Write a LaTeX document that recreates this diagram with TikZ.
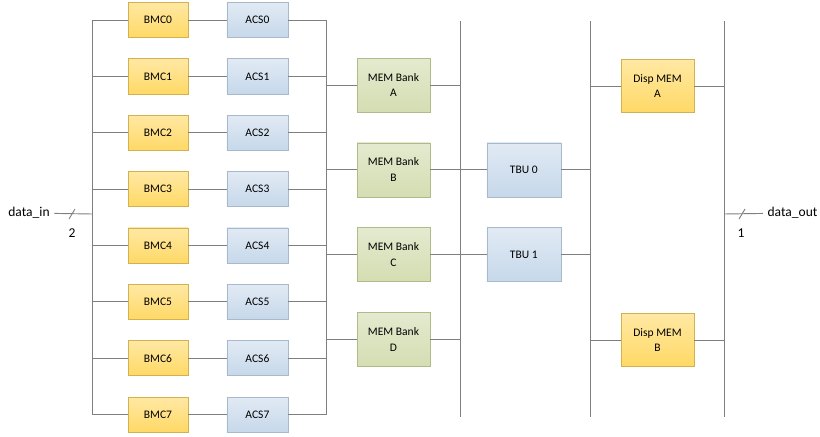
\documentclass[tikz,border=0pt]{standalone}
\usepackage{fontspec}
\setmainfont{Carlito}
\usepackage{tikz}
\usetikzlibrary{positioning,calc}

\definecolor{ylwtop}{HTML}{FFE8A3}
\definecolor{ylwbot}{HTML}{FFD966}
\definecolor{ylwline}{HTML}{D2B24E}
\definecolor{blutop}{HTML}{E1EAF4}
\definecolor{blubot}{HTML}{C6D8EA}
\definecolor{bluline}{HTML}{A9B9CC}
\definecolor{grntop}{HTML}{E4EACF}
\definecolor{grnbot}{HTML}{D4DDB2}
\definecolor{grnline}{HTML}{AFBB89}
\definecolor{wirecol}{HTML}{7F7F7F}

\begin{document}
\begin{tikzpicture}[
  x=0.0265cm, y=-0.0265cm,
  font=\fontsize{8.7}{12}\selectfont,
  box/.style={draw, align=center, inner sep=1pt, outer sep=0pt, line width=0.5pt},
  yellow/.style={box, draw=ylwline, top color=ylwtop, bottom color=ylwbot},
  blue/.style={box, draw=bluline, top color=blutop, bottom color=blubot},
  bmc/.style={yellow, minimum width=1.59cm, minimum height=0.93cm},
  acs/.style={blue, minimum width=1.62cm, minimum height=0.93cm},
  mem/.style={box, draw=grnline, top color=grntop, bottom color=grnbot, minimum width=1.93cm, minimum height=1.43cm},
  tbu/.style={blue, minimum width=1.96cm, minimum height=1.43cm},
  disp/.style={yellow, minimum width=1.93cm, minimum height=1.40cm},
  port/.style={font=\fontsize{10.2}{12}\selectfont},
  wire/.style={draw=wirecol, line width=0.7pt},
  node distance=0.564cm and 1.03cm
]
\useasboundingbox (0,0) rectangle (820,436);

% branch metric / add-compare-select units
\node[bmc] (bmc0) at (158,20) {BMC0};
\node[acs, right=of bmc0] (acs0) {ACS0};
\foreach \i [count=\j from 0] in {1,...,7} {
  \node[bmc, below=of bmc\j] (bmc\i) {BMC\i};
  \node[acs, right=of bmc\i] (acs\i) {ACS\i};
}

% memory banks, traceback, display memory
\node[mem] (mema) at (393.5,85) {MEM Bank\\A};
\node[mem, below=0.82cm of mema] (memb) {MEM Bank\\B};
\node[mem, below=0.82cm of memb] (memc) {MEM Bank\\C};
\node[mem, below=0.82cm of memc] (memd) {MEM Bank\\D};
\node[tbu, right=1.51cm of memb] (tbu0) {TBU 0};
\node[tbu, right=1.51cm of memc] (tbu1) {TBU 1};
\node[disp] (dispa) at (657.5,86) {Disp MEM\\A};
\node[disp] (dispb) at (657.5,340) {Disp MEM\\B};

% buses
\coordinate (lbus) at (92,214);
\coordinate (abus) at (326,214);
\coordinate (bus2) at (460,214);
\coordinate (bus3) at (590,214);
\coordinate (bus4) at (724,214);
\coordinate (top) at (0,21);
\coordinate (bot) at (0,417);

\node[port] (din) at (29,213) {data\_in};
\node[port] (dout) at (792.5,213) {data\_out};
\coordinate (inslash) at (72,214);
\coordinate (outslash) at (742,214);
\node[port] (nin) at (72,233) {2};
\node[port] (nout) at (741,233) {1};

\draw[wire] (lbus |- bmc0) -- (lbus |- bmc7);
\draw[wire] (abus |- acs0) -- (abus |- acs7);
\foreach \b in {bus2,bus3,bus4} \draw[wire] (\b |- top) -- (\b |- bot);

\foreach \i in {0,...,7} \draw[wire] (lbus |- bmc\i) -- (bmc\i) -- (acs\i) -- (acs\i -| abus);
\foreach \m in {a,b,c,d} \draw[wire] (abus |- mem\m) -- (mem\m) -- (mem\m -| bus2);
\foreach \t in {tbu0,tbu1} \draw[wire] (bus2 |- \t) -- (\t) -- (\t -| bus3);
\foreach \d in {dispa,dispb} \draw[wire] (bus3 |- \d) -- (\d) -- (\d -| bus4);

\draw[wire] (din) -- (lbus);
\draw[wire] (bus4) -- (dout);
\foreach \s in {inslash,outslash} \draw[wire] ([shift={(-3,5)}]\s) -- ([shift={(3,-5)}]\s);
\end{tikzpicture}
\end{document}
